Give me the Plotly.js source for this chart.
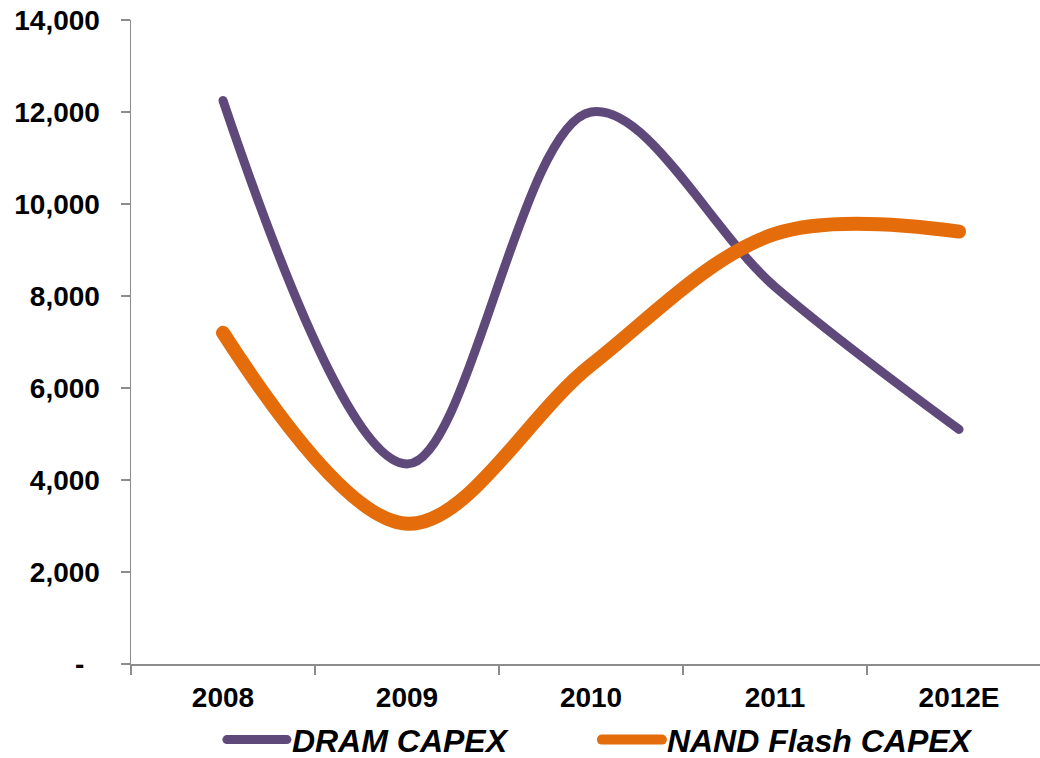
<!DOCTYPE html>
<html>
<head>
<meta charset="utf-8">
<script src="https://cdn.plot.ly/plotly-3.0.1.min.js"></script>
<style>
  html, body { margin: 0; padding: 0; background: #fff; }
  #chart { width: 1040px; height: 758px; }
  .scatterlayer path.js-line, .legend path.js-line { stroke-linecap: round; stroke-linejoin: round; }
</style>
</head>
<body>
<div id="chart"></div>
<script>
// Capital expenditure by memory segment, US$ million
const years = ["2008", "2009", "2010", "2011", "2012E"];
const dramCapex = [12250, 4350, 12000, 8200, 5100];
const nandCapex = [7200, 3050, 6500, 9350, 9400];
const yTickValues = [0, 2000, 4000, 6000, 8000, 10000, 12000, 14000];
// Accounting-style zero: a dash padded with two trailing spaces
const yTickLabels = ["-\u00a0\u00a0", "2,000", "4,000", "6,000", "8,000", "10,000", "12,000", "14,000"];

const FONT = "Liberation Sans, Arial, Helvetica, sans-serif";
const AXIS_GREY = "#8c8c8c";

const traces = [
  {
    name: "DRAM CAPEX",
    x: years,
    y: dramCapex,
    type: "scatter",
    mode: "lines",
    line: { color: "#5f497a", width: 9, shape: "spline", smoothing: 1 },
    hoverinfo: "x+y+name"
  },
  {
    name: "NAND Flash CAPEX",
    x: years,
    y: nandCapex,
    type: "scatter",
    mode: "lines",
    line: { color: "#e46c0a", width: 14, shape: "spline", smoothing: 1 },
    hoverinfo: "x+y+name"
  }
];

const layout = {
  width: 1040,
  height: 758,
  margin: { l: 131, r: 0, t: 20, b: 94 },
  paper_bgcolor: "#ffffff",
  plot_bgcolor: "#ffffff",
  showlegend: true,
  xaxis: {
    type: "category",
    range: [-0.5, 4.44],
    showgrid: false,
    zeroline: false,
    showline: true,
    linecolor: AXIS_GREY,
    linewidth: 1.5,
    ticks: "outside",
    tickson: "boundaries",
    ticklen: 9,
    tickcolor: AXIS_GREY,
    tickwidth: 1.5,
    ticklabelstandoff: 8,
    tickfont: { family: FONT, size: 28, color: "#000000", weight: "bold" }
  },
  yaxis: {
    range: [0, 14000],
    tickvals: yTickValues,
    ticktext: yTickLabels,
    showgrid: false,
    zeroline: false,
    showline: true,
    linecolor: AXIS_GREY,
    linewidth: 1.5,
    ticks: "outside",
    ticklen: 9,
    tickcolor: AXIS_GREY,
    tickwidth: 1.5,
    ticklabelstandoff: 15,
    tickfont: { family: FONT, size: 28, color: "#000000", weight: "bold" }
  },
  legend: {
    orientation: "h",
    x: 0.1,
    xanchor: "left",
    yref: "container",
    y: 0.024,
    yanchor: "middle",
    itemwidth: 60,
    entrywidth: 300,
    entrywidthmode: "pixels",
    bgcolor: "rgba(0,0,0,0)",
    font: { family: FONT, size: 32, color: "#000000", weight: "bold", style: "italic" }
  }
};

Plotly.newPlot("chart", traces, layout, { displayModeBar: false, staticPlot: true });
</script>
</body>
</html>
